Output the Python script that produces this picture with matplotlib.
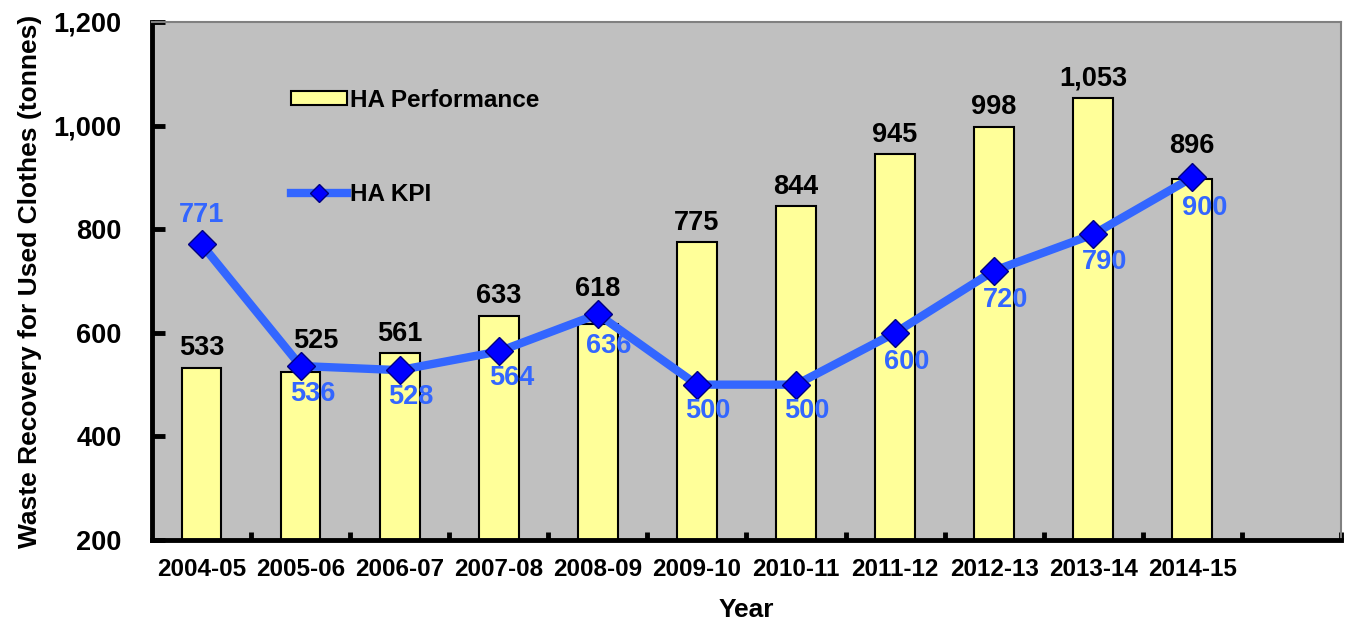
import numpy as np
from matplotlib import pyplot as plt
from matplotlib.ticker import FuncFormatter, FixedLocator

years = ['2004-05', '2005-06', '2006-07', '2007-08', '2008-09', '2009-10',
         '2010-11', '2011-12', '2012-13', '2013-14', '2014-15']
performance = [533, 525, 561, 633, 618, 775, 844, 945, 998, 1053, 896]
kpi = [771, 536, 528, 564, 636, 500, 500, 600, 720, 790, 900]

# label nudges in points (dx, dy) -- the original had some moved by hand
perf_offsets = [(0, 9), (11, 17), (0, 9), (0, 9), (0, 20), (0, 9),
                (0, 9), (0, 9), (0, 9), (0, 9), (0, 19)]
kpi_offsets = [(0, 21), (9, -20), (8, -19), (9, -19), (8, -23), (8, -19),
               (8, -19), (8, -21), (8, -21), (8, -20), (9, -22)]

plt.rcParams['font.family'] = ['Liberation Sans', 'DejaVu Sans']
plt.rcParams['font.weight'] = 'bold'

fig = plt.figure(figsize=(13.49, 6.28), dpi=100)
ax = fig.add_axes([0.1127, 0.140, 0.8813, 0.825])
ax.set_facecolor('#C0C0C0')

x = np.arange(len(years))
bars = ax.bar(x, performance, width=0.4, bottom=0, color='#FFFF99', edgecolor='black',
              linewidth=1.5, label='HA Performance', zorder=2)
line, = ax.plot(x, kpi, color='#3366FF', lw=6, marker='D', markersize=14,
                markerfacecolor='#0000FF', markeredgecolor='#000080', markeredgewidth=1,
                label='HA KPI', zorder=3)

for xi, v, (dx, dy) in zip(x, performance, perf_offsets):
    ax.annotate(f'{v:,}', (xi, v), xytext=(dx, dy), textcoords='offset points',
                ha='center', va='baseline', fontsize=19.5, fontweight='bold',
                color='black', zorder=4)
for xi, v, (dx, dy) in zip(x, kpi, kpi_offsets):
    ax.annotate(f'{v:,}', (xi, v), xytext=(dx, dy), textcoords='offset points',
                ha='center', va='center', fontsize=19.5, fontweight='bold',
                color='#3366FF', zorder=4)

ax.set_xlim(-0.5, 11.5)
ax.set_ylim(200, 1200)
ax.set_yticks(np.arange(200, 1201, 200))
ax.yaxis.set_major_formatter(FuncFormatter(lambda v, p: f'{int(v):,}'))
ax.set_xticks(x)
ax.set_xticklabels(years)
ax.xaxis.set_minor_locator(FixedLocator(np.arange(0.5, 11.6, 1)))

ax.tick_params(axis='y', direction='in', length=9, width=3.5, pad=22,
               labelsize=19.5, color='black')
ax.tick_params(axis='x', which='major', length=0, pad=13, labelsize=17.5)
ax.tick_params(axis='x', which='minor', direction='in', length=6, width=3.5,
               color='black')
for lab in ax.get_xticklabels() + ax.get_yticklabels():
    lab.set_fontweight('bold')

for side in ['left', 'bottom']:
    ax.spines[side].set_linewidth(3.5)
    ax.spines[side].set_color('black')
for side in ['top', 'right']:
    ax.spines[side].set_linewidth(1.5)
    ax.spines[side].set_color('#808080')

ax.set_ylabel('Waste Recovery for Used Clothes (tonnes)', fontsize=19,
              fontweight='bold', labelpad=8)
ax.set_xlabel('Year', fontsize=19, fontweight='bold', labelpad=12)

leg = ax.legend([bars, line], ['HA Performance', 'HA KPI'],
                loc='upper left', bbox_to_anchor=(0.107, 0.895), frameon=False,
                fontsize=17.5, handlelength=2.3, handleheight=0.5,
                handletextpad=0.1, labelspacing=2.95, borderpad=0)
for t in leg.get_texts():
    t.set_fontweight('bold')
leg.legend_handles[1].set_markersize(9)
leg.legend_handles[1].set_linewidth(6)

fig.savefig('out.png', dpi=100)
